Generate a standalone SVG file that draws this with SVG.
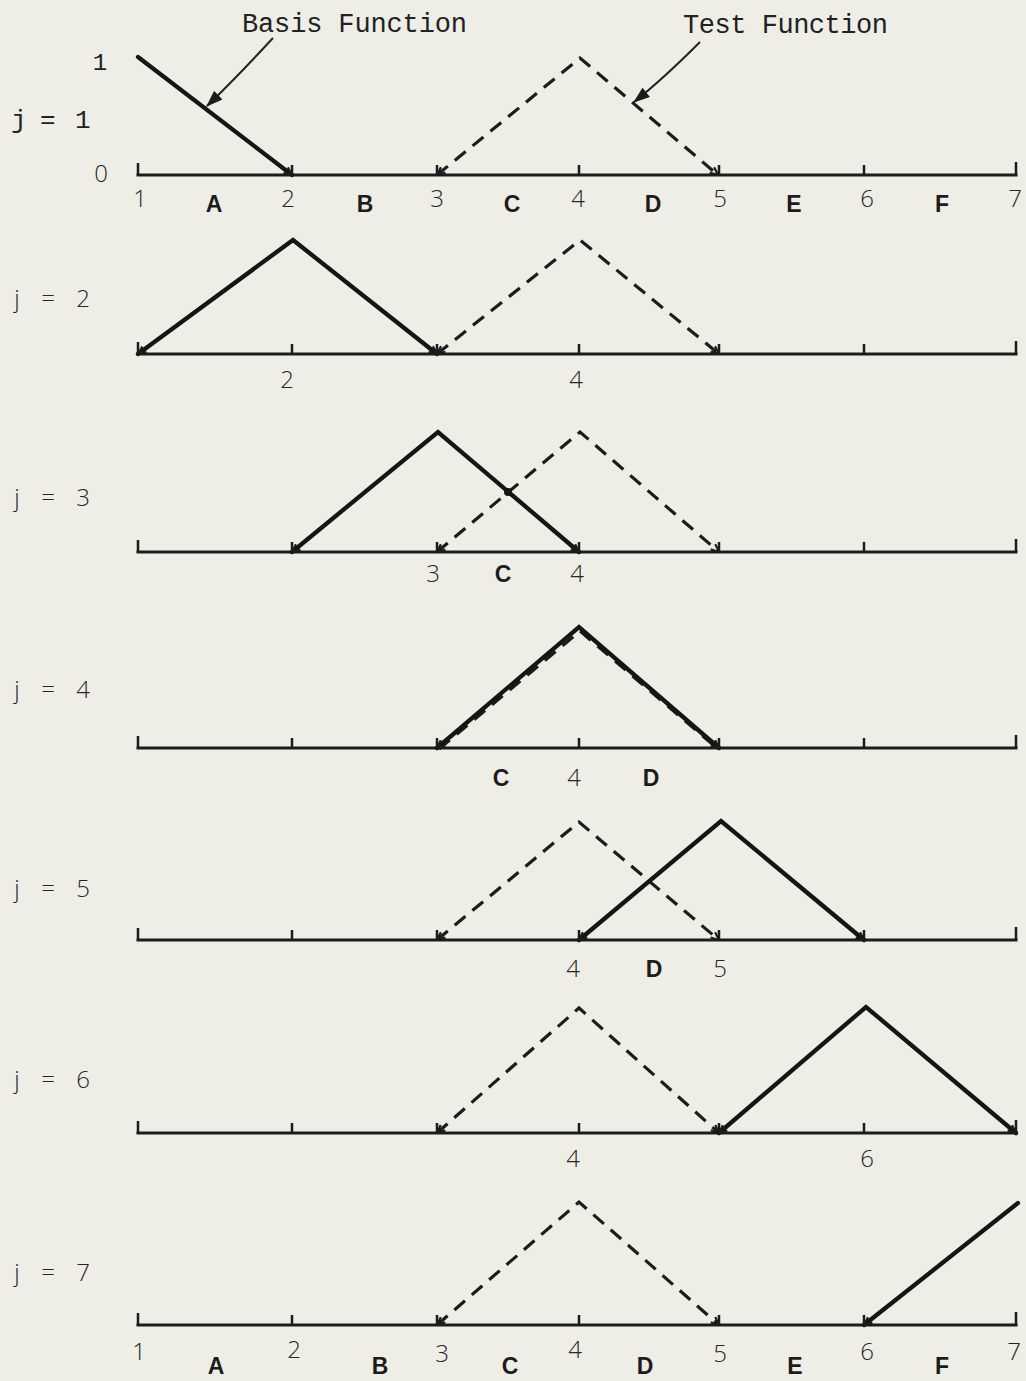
<svg xmlns="http://www.w3.org/2000/svg" width="1026" height="1381" viewBox="0 0 1026 1381">
<style>
.bg{fill:#eeeee6}
.axis{fill:none;stroke:#1c1c1c;stroke-width:3;stroke-linecap:square}
.tick{fill:none;stroke:#1c1c1c;stroke-width:2.5}
.basis{fill:none;stroke:#151515;stroke-width:4.3;stroke-linejoin:miter;stroke-linecap:round}
.test{fill:none;stroke:#1c1c1c;stroke-width:3.2;stroke-dasharray:14 9;stroke-linejoin:miter}
.callout{fill:none;stroke:#222;stroke-width:2}
.mono{font-family:"Liberation Mono","DejaVu Sans Mono",monospace;fill:#222}
.num{font-family:"Open Sans","Liberation Sans",sans-serif;font-weight:300;font-size:24px;fill:#262626;text-anchor:middle}
.let{font-family:"Liberation Sans","DejaVu Sans",sans-serif;font-weight:bold;font-size:23px;fill:#1c1c1c;text-anchor:middle}
.jl{font-family:"Open Sans","Liberation Sans",sans-serif;font-weight:300;font-size:24px;fill:#262626;text-anchor:middle}
</style>
<defs>
<marker id="hk" viewBox="0 0 10 10" refX="9" refY="5" markerWidth="10" markerHeight="10" markerUnits="userSpaceOnUse" orient="auto-start-reverse">
<path d="M1,1.5 L9,5 L1,8.5" fill="none" stroke="#1c1c1c" stroke-width="2.2"/>
</marker>
<marker id="ah" viewBox="0 0 14 10" refX="13" refY="5" markerWidth="17" markerHeight="12" markerUnits="userSpaceOnUse" orient="auto">
<path d="M0,0 L14,5 L0,10 z" fill="#1c1c1c"/>
</marker>
<g id="axisTpl">
<line class="axis" x1="138" y1="0" x2="1016" y2="0"/>
<path class="tick" d="M138,0 V-12 M292,0 V-10 M437,0 V-10 M579,0 V-10 M719,0 V-10 M864,0 V-10 M1016,0 V-13"/>
</g>
</defs>
<rect class="bg" x="0" y="0" width="1026" height="1381"/>

<g id="labels-top">
<text class="mono" x="242" y="32" font-size="27" textLength="225">Basis Function</text>
<text class="mono" x="683" y="33" font-size="27" textLength="205">Test Function</text>
</g>

<g id="connectors">
<path class="callout" d="M273,38 Q236,78 207,106" marker-end="url(#ah)"/>
<path class="callout" d="M700,42 Q662,80 634,102" marker-end="url(#ah)"/>
</g>

<g id="row1">
<text class="mono" x="100" y="70" font-size="24" text-anchor="middle">1</text>
<text class="num" x="101" y="182">0</text>
<text class="mono" font-size="26"><tspan x="11" y="128">j</tspan><tspan x="40" y="128">=</tspan><tspan x="75" y="128">1</tspan></text>
<use href="#axisTpl" transform="translate(0,175)"/>
<polyline class="basis" points="138,57 292,175" marker-end="url(#hk)"/>
<polyline class="test" points="437,175 580,58 718,175" marker-start="url(#hk)" marker-end="url(#hk)"/>
<text class="num" x="140" y="207">1</text>
<text class="let" x="214" y="212">A</text>
<text class="num" x="288" y="207">2</text>
<text class="let" x="365" y="212">B</text>
<text class="num" x="437" y="207">3</text>
<text class="let" x="512" y="212">C</text>
<text class="num" x="578" y="207">4</text>
<text class="let" x="653" y="212">D</text>
<text class="num" x="720" y="207">5</text>
<text class="let" x="794" y="212">E</text>
<text class="num" x="867" y="207">6</text>
<text class="let" x="942" y="212">F</text>
<text class="num" x="1015" y="207">7</text>
</g>

<g id="row2">
<text class="jl"><tspan x="17" y="307">j</tspan><tspan x="48" y="307">=</tspan><tspan x="83" y="307">2</tspan></text>
<use href="#axisTpl" transform="translate(0,354)"/>
<polyline class="basis" points="138,354 293,240 437,354" marker-start="url(#hk)" marker-end="url(#hk)"/>
<polyline class="test" points="437,354 580,240 719,354" marker-start="url(#hk)" marker-end="url(#hk)"/>
<text class="num" x="287" y="388">2</text>
<text class="num" x="576" y="388">4</text>
</g>

<g id="row3">
<text class="jl"><tspan x="17" y="506">j</tspan><tspan x="48" y="506">=</tspan><tspan x="83" y="506">3</tspan></text>
<use href="#axisTpl" transform="translate(0,552)"/>
<polyline class="basis" points="292,552 438,432 579,552" marker-start="url(#hk)" marker-end="url(#hk)"/>
<polyline class="test" points="437,552 580,432 719,552" marker-start="url(#hk)" marker-end="url(#hk)"/>
<circle cx="508" cy="492" r="4" fill="#151515"/>
<text class="num" x="433" y="582">3</text>
<text class="let" x="503" y="582">C</text>
<text class="num" x="577" y="582">4</text>
</g>

<g id="row4">
<text class="jl"><tspan x="17" y="698">j</tspan><tspan x="48" y="698">=</tspan><tspan x="83" y="698">4</tspan></text>
<use href="#axisTpl" transform="translate(0,748)"/>
<polyline class="test" points="439,749 580,631 718,749"/>
<polyline class="basis" points="437,748 579,627 719,748" marker-start="url(#hk)" marker-end="url(#hk)"/>
<text class="let" x="501" y="786">C</text>
<text class="num" x="574" y="786">4</text>
<text class="let" x="651" y="786">D</text>
</g>

<g id="row5">
<text class="jl"><tspan x="17" y="897">j</tspan><tspan x="48" y="897">=</tspan><tspan x="83" y="897">5</tspan></text>
<use href="#axisTpl" transform="translate(0,940)"/>
<polyline class="test" points="437,940 579,822 719,940" marker-start="url(#hk)" marker-end="url(#hk)"/>
<polyline class="basis" points="579,940 721,821 864,940" marker-start="url(#hk)" marker-end="url(#hk)"/>
<text class="num" x="573" y="977">4</text>
<text class="let" x="654" y="977">D</text>
<text class="num" x="720" y="977">5</text>
</g>

<g id="row6">
<text class="jl"><tspan x="17" y="1088">j</tspan><tspan x="48" y="1088">=</tspan><tspan x="83" y="1088">6</tspan></text>
<use href="#axisTpl" transform="translate(0,1133)"/>
<polyline class="test" points="437,1133 579,1008 719,1133" marker-start="url(#hk)" marker-end="url(#hk)"/>
<polyline class="basis" points="719,1133 866,1007 1016,1133" marker-start="url(#hk)" marker-end="url(#hk)"/>
<text class="num" x="573" y="1167">4</text>
<text class="num" x="867" y="1167">6</text>
</g>

<g id="row7">
<text class="jl"><tspan x="17" y="1281">j</tspan><tspan x="48" y="1281">=</tspan><tspan x="83" y="1281">7</tspan></text>
<use href="#axisTpl" transform="translate(0,1325)"/>
<polyline class="test" points="437,1325 579,1202 719,1325" marker-start="url(#hk)" marker-end="url(#hk)"/>
<polyline class="basis" points="1018,1203 864,1325" marker-end="url(#hk)"/>
<text class="num" x="139" y="1360">1</text>
<text class="let" x="216" y="1374">A</text>
<text class="num" x="294" y="1358">2</text>
<text class="let" x="380" y="1374">B</text>
<text class="num" x="442" y="1362">3</text>
<text class="let" x="510" y="1374">C</text>
<text class="num" x="575" y="1358">4</text>
<text class="let" x="645" y="1374">D</text>
<text class="num" x="720" y="1362">5</text>
<text class="let" x="795" y="1374">E</text>
<text class="num" x="867" y="1360">6</text>
<text class="let" x="942" y="1374">F</text>
<text class="num" x="1014" y="1360">7</text>
</g>
</svg>
